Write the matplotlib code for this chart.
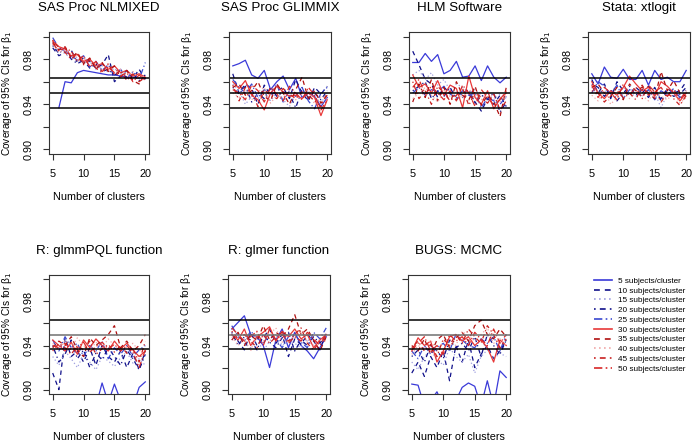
import numpy as np
import matplotlib
matplotlib.use("Agg")
import matplotlib.pyplot as plt
from matplotlib.lines import Line2D

plt.rcParams["font.family"] = ["Liberation Sans", "DejaVu Sans"]

CLUSTERS = list(range(5, 21))
SUBJECTS = [5, 10, 15, 20, 25, 30, 35, 40, 45, 50]
TITLES = ["SAS Proc NLMIXED", "SAS Proc GLIMMIX", "HLM Software", "Stata: xtlogit",
          "R: glmmPQL function", "R: glmer function", "BUGS: MCMC"]
NOMINAL = 0.95
MC_BOUNDS = [0.9365, 0.9635]

# coverage per panel, one row per subjects/cluster setting (5 ... 50)
NLMIXED = [
    [np.nan, 0.937, 0.960, 0.959, 0.968, 0.970, 0.969, 0.968, 0.967, 0.966, 0.966, 0.965, 0.964, 0.964, 0.963, 0.963],
    [0.990, 0.983, 0.986, 0.988, 0.977, 0.981, 0.978, 0.972, 0.975, 0.984, 0.960, 0.965, 0.970, 0.963, 0.971, 0.962],
    [0.994, 0.987, 0.985, 0.980, 0.982, 0.976, 0.978, 0.971, 0.974, 0.968, 0.972, 0.966, 0.969, 0.963, 0.968, 0.964],
    [0.992, 0.985, 0.990, 0.980, 0.976, 0.979, 0.972, 0.976, 0.969, 0.971, 0.966, 0.968, 0.964, 0.967, 0.961, 0.966],
    [0.999, 0.990, 0.987, 0.983, 0.979, 0.983, 0.973, 0.978, 0.970, 0.975, 0.966, 0.971, 0.963, 0.969, 0.962, 0.977],
    [0.996, 0.991, 0.989, 0.983, 0.984, 0.978, 0.980, 0.974, 0.976, 0.971, 0.974, 0.968, 0.970, 0.965, 0.967, 0.964],
    [0.995, 0.988, 0.991, 0.981, 0.986, 0.976, 0.981, 0.971, 0.977, 0.969, 0.974, 0.964, 0.970, 0.961, 0.958, 0.967],
    [0.993, 0.986, 0.988, 0.984, 0.978, 0.981, 0.974, 0.977, 0.970, 0.975, 0.967, 0.971, 0.964, 0.969, 0.962, 0.966],
    [0.997, 0.990, 0.986, 0.980, 0.985, 0.975, 0.979, 0.972, 0.968, 0.976, 0.966, 0.970, 0.961, 0.967, 0.960, 0.964],
    [0.994, 0.987, 0.990, 0.987, 0.978, 0.983, 0.973, 0.978, 0.969, 0.973, 0.968, 0.965, 0.968, 0.960, 0.966, 0.961],
]
GLIMMIX = [
    [0.974, 0.976, 0.979, 0.966, 0.963, 0.970, 0.953, 0.960, 0.965, 0.953, 0.963, 0.946, 0.950, 0.947, 0.938, 0.946],
    [0.967, 0.950, 0.958, 0.954, 0.940, 0.957, 0.948, 0.952, 0.955, 0.945, 0.962, 0.950, 0.943, 0.955, 0.949, 0.956],
    [0.958, 0.952, 0.940, 0.947, 0.945, 0.951, 0.943, 0.950, 0.944, 0.938, 0.949, 0.945, 0.952, 0.946, 0.941, 0.950],
    [0.955, 0.949, 0.956, 0.942, 0.950, 0.945, 0.955, 0.947, 0.951, 0.949, 0.937, 0.953, 0.946, 0.950, 0.944, 0.952],
    [0.962, 0.955, 0.950, 0.958, 0.946, 0.953, 0.949, 0.958, 0.942, 0.952, 0.947, 0.955, 0.943, 0.936, 0.950, 0.955],
    [0.960, 0.954, 0.961, 0.948, 0.944, 0.935, 0.950, 0.956, 0.951, 0.947, 0.948, 0.945, 0.950, 0.946, 0.930, 0.944],
    [0.955, 0.958, 0.948, 0.952, 0.960, 0.947, 0.943, 0.958, 0.950, 0.940, 0.953, 0.964, 0.945, 0.952, 0.941, 0.948],
    [0.950, 0.946, 0.953, 0.944, 0.951, 0.955, 0.941, 0.948, 0.946, 0.952, 0.944, 0.949, 0.953, 0.940, 0.947, 0.945],
    [0.957, 0.943, 0.955, 0.950, 0.938, 0.953, 0.948, 0.945, 0.954, 0.949, 0.945, 0.951, 0.948, 0.943, 0.938, 0.950],
    [0.953, 0.950, 0.944, 0.957, 0.952, 0.942, 0.955, 0.949, 0.943, 0.956, 0.950, 0.944, 0.955, 0.948, 0.935, 0.944],
]
HLM = [
    [0.977, 0.977, 0.985, 0.978, 0.984, 0.967, 0.970, 0.978, 0.964, 0.965, 0.974, 0.961, 0.974, 0.964, 0.959, 0.964],
    [0.987, 0.975, 0.962, 0.958, 0.946, 0.955, 0.950, 0.952, 0.946, 0.949, 0.942, 0.934, 0.945, 0.940, 0.948, 0.938],
    [0.966, 0.970, 0.962, 0.968, 0.957, 0.962, 0.952, 0.958, 0.955, 0.950, 0.953, 0.947, 0.950, 0.944, 0.949, 0.945],
    [0.952, 0.956, 0.960, 0.945, 0.952, 0.947, 0.955, 0.944, 0.950, 0.953, 0.941, 0.948, 0.945, 0.950, 0.933, 0.942],
    [0.950, 0.955, 0.948, 0.953, 0.951, 0.956, 0.949, 0.946, 0.952, 0.948, 0.950, 0.937, 0.946, 0.943, 0.940, 0.947],
    [0.966, 0.955, 0.958, 0.950, 0.961, 0.948, 0.957, 0.954, 0.937, 0.965, 0.946, 0.940, 0.952, 0.936, 0.945, 0.950],
    [0.942, 0.958, 0.946, 0.962, 0.943, 0.955, 0.940, 0.960, 0.948, 0.944, 0.956, 0.939, 0.948, 0.942, 0.929, 0.955],
    [0.945, 0.950, 0.955, 0.948, 0.942, 0.952, 0.947, 0.951, 0.945, 0.953, 0.949, 0.944, 0.951, 0.946, 0.942, 0.948],
    [0.960, 0.945, 0.952, 0.940, 0.956, 0.950, 0.943, 0.948, 0.954, 0.939, 0.951, 0.946, 0.941, 0.949, 0.935, 0.943],
    [0.955, 0.962, 0.949, 0.956, 0.950, 0.944, 0.952, 0.943, 0.957, 0.950, 0.938, 0.953, 0.946, 0.939, 0.944, 0.952],
]
STATA = [
    [0.967, 0.958, 0.973, 0.964, 0.963, 0.971, 0.962, 0.962, 0.970, 0.957, 0.970, 0.962, 0.964, 0.960, 0.960, 0.970],
    [0.962, 0.950, 0.958, 0.945, 0.960, 0.952, 0.948, 0.955, 0.950, 0.956, 0.949, 0.945, 0.954, 0.950, 0.952, 0.960],
    [0.955, 0.948, 0.952, 0.950, 0.946, 0.955, 0.950, 0.947, 0.952, 0.948, 0.950, 0.937, 0.949, 0.951, 0.945, 0.953],
    [0.958, 0.955, 0.947, 0.953, 0.943, 0.950, 0.956, 0.948, 0.953, 0.946, 0.955, 0.943, 0.952, 0.947, 0.949, 0.955],
    [0.950, 0.960, 0.956, 0.949, 0.957, 0.945, 0.953, 0.951, 0.947, 0.953, 0.944, 0.952, 0.948, 0.954, 0.946, 0.950],
    [0.960, 0.950, 0.945, 0.952, 0.948, 0.955, 0.965, 0.958, 0.952, 0.955, 0.947, 0.960, 0.956, 0.950, 0.943, 0.950],
    [0.955, 0.958, 0.950, 0.947, 0.955, 0.944, 0.958, 0.952, 0.955, 0.950, 0.945, 0.969, 0.952, 0.961, 0.950, 0.947],
    [0.948, 0.943, 0.952, 0.940, 0.946, 0.950, 0.945, 0.952, 0.948, 0.943, 0.952, 0.947, 0.944, 0.950, 0.941, 0.946],
    [0.952, 0.950, 0.942, 0.948, 0.952, 0.946, 0.950, 0.944, 0.957, 0.948, 0.953, 0.942, 0.950, 0.945, 0.939, 0.948],
    [0.957, 0.946, 0.955, 0.950, 0.944, 0.958, 0.948, 0.955, 0.945, 0.957, 0.951, 0.955, 0.947, 0.953, 0.944, 0.952],
]
GLMMPQL = [
    [0.880, 0.875, 0.870, 0.878, 0.872, 0.885, 0.880, 0.885, 0.906, 0.888, 0.905, 0.890, 0.880, 0.885, 0.902, 0.907],
    [0.915, 0.900, 0.947, 0.930, 0.935, 0.925, 0.938, 0.922, 0.940, 0.930, 0.925, 0.935, 0.920, 0.933, 0.918, 0.935],
    [0.930, 0.922, 0.935, 0.928, 0.920, 0.932, 0.925, 0.918, 0.930, 0.926, 0.921, 0.929, 0.934, 0.924, 0.928, 0.922],
    [0.940, 0.925, 0.932, 0.945, 0.928, 0.936, 0.920, 0.933, 0.927, 0.938, 0.930, 0.922, 0.936, 0.928, 0.918, 0.932],
    [0.945, 0.935, 0.948, 0.938, 0.942, 0.930, 0.940, 0.935, 0.944, 0.928, 0.938, 0.932, 0.940, 0.930, 0.936, 0.940],
    [0.945, 0.940, 0.935, 0.943, 0.932, 0.945, 0.938, 0.946, 0.940, 0.935, 0.944, 0.937, 0.942, 0.936, 0.930, 0.935],
    [0.938, 0.944, 0.940, 0.948, 0.936, 0.930, 0.947, 0.940, 0.945, 0.950, 0.958, 0.938, 0.944, 0.935, 0.940, 0.950],
    [0.942, 0.936, 0.945, 0.938, 0.947, 0.940, 0.935, 0.943, 0.938, 0.946, 0.940, 0.936, 0.938, 0.942, 0.935, 0.938],
    [0.935, 0.942, 0.938, 0.932, 0.940, 0.936, 0.944, 0.932, 0.937, 0.941, 0.934, 0.940, 0.933, 0.937, 0.925, 0.944],
    [0.940, 0.938, 0.942, 0.936, 0.938, 0.943, 0.934, 0.939, 0.943, 0.937, 0.941, 0.935, 0.940, 0.934, 0.920, 0.936],
]
GLMER = [
    [0.955, 0.961, 0.967, 0.950, 0.948, 0.940, 0.920, 0.945, 0.955, 0.938, 0.952, 0.940, 0.935, 0.928, 0.938, 0.948],
    [0.950, 0.944, 0.936, 0.952, 0.940, 0.947, 0.955, 0.942, 0.950, 0.930, 0.946, 0.941, 0.950, 0.944, 0.936, 0.952],
    [0.945, 0.950, 0.942, 0.938, 0.946, 0.935, 0.944, 0.950, 0.940, 0.945, 0.942, 0.938, 0.946, 0.940, 0.944, 0.948],
    [0.952, 0.940, 0.948, 0.945, 0.936, 0.950, 0.943, 0.938, 0.947, 0.952, 0.935, 0.945, 0.940, 0.948, 0.942, 0.950],
    [0.958, 0.948, 0.944, 0.953, 0.947, 0.942, 0.950, 0.946, 0.938, 0.948, 0.950, 0.943, 0.938, 0.952, 0.946, 0.956],
    [0.950, 0.945, 0.955, 0.940, 0.948, 0.952, 0.957, 0.944, 0.953, 0.948, 0.955, 0.946, 0.950, 0.938, 0.945, 0.950],
    [0.945, 0.952, 0.940, 0.950, 0.944, 0.958, 0.945, 0.952, 0.948, 0.955, 0.968, 0.950, 0.955, 0.945, 0.935, 0.948],
    [0.948, 0.940, 0.946, 0.935, 0.952, 0.944, 0.950, 0.956, 0.943, 0.950, 0.946, 0.952, 0.944, 0.940, 0.946, 0.944],
    [0.953, 0.946, 0.950, 0.944, 0.938, 0.950, 0.942, 0.948, 0.952, 0.944, 0.950, 0.956, 0.942, 0.936, 0.944, 0.948],
    [0.956, 0.950, 0.944, 0.948, 0.953, 0.940, 0.955, 0.945, 0.950, 0.942, 0.948, 0.944, 0.952, 0.946, 0.940, 0.950],
]
BUGS = [
    [0.905, 0.904, 0.885, 0.890, 0.898, 0.885, 0.880, 0.890, 0.902, 0.906, 0.903, 0.885, 0.908, 0.885, 0.917, 0.911],
    [0.915, 0.925, 0.912, 0.930, 0.920, 0.935, 0.908, 0.940, 0.925, 0.945, 0.920, 0.932, 0.940, 0.928, 0.935, 0.945],
    [0.925, 0.918, 0.930, 0.935, 0.928, 0.922, 0.938, 0.930, 0.925, 0.932, 0.915, 0.930, 0.936, 0.928, 0.933, 0.930],
    [0.930, 0.936, 0.925, 0.940, 0.935, 0.928, 0.945, 0.938, 0.942, 0.935, 0.948, 0.930, 0.950, 0.940, 0.932, 0.945],
    [0.935, 0.928, 0.940, 0.932, 0.938, 0.942, 0.935, 0.950, 0.945, 0.940, 0.938, 0.946, 0.942, 0.948, 0.935, 0.950],
    [0.935, 0.947, 0.940, 0.944, 0.925, 0.935, 0.948, 0.950, 0.944, 0.948, 0.940, 0.945, 0.938, 0.925, 0.945, 0.940],
    [0.940, 0.935, 0.946, 0.932, 0.945, 0.950, 0.938, 0.947, 0.952, 0.944, 0.958, 0.963, 0.950, 0.946, 0.955, 0.948],
    [0.932, 0.940, 0.937, 0.945, 0.935, 0.943, 0.946, 0.940, 0.953, 0.948, 0.944, 0.950, 0.956, 0.942, 0.946, 0.940],
    [0.938, 0.944, 0.935, 0.941, 0.930, 0.946, 0.940, 0.950, 0.942, 0.955, 0.948, 0.942, 0.958, 0.950, 0.938, 0.946],
    [0.936, 0.942, 0.948, 0.935, 0.940, 0.932, 0.950, 0.944, 0.948, 0.940, 0.952, 0.946, 0.940, 0.955, 0.942, 0.950],
]
PANELS = [NLMIXED, GLIMMIX, HLM, STATA, GLMMPQL, GLMER, BUGS]

COLORS = ["#3a3ad8", "#10108a", "#a0a0e0", "#10108a", "#3a48d0",
          "#e83838", "#b01010", "#f0a8a8", "#c82020", "#d82828"]
STYLES = ["-", (0, (3.5, 3)), (0, (1, 2)), (0, (1, 2.5, 3.5, 2.5)), (0, (5, 2, 1, 2))] * 2

W, H = 692, 443
# panel boxes in pixels: left, top, right, bottom
BOXES = [(49, 32, 149, 154), (229, 32, 331, 154), (409, 32, 510, 154), (588, 32, 690, 154),
         (49, 275, 149, 394), (228, 275, 330, 394), (408, 275, 510, 394)]

fig = plt.figure(figsize=(W / 100, H / 100), dpi=100)

for i, (title, data) in enumerate(zip(TITLES, PANELS)):
    l, t, r, b = BOXES[i]
    ax = fig.add_axes([l / W, 1 - b / H, (r - l) / W, (b - t) / H])
    for row, col, ls in zip(data, COLORS, STYLES):
        ax.plot(CLUSTERS, row, color=col, linestyle=ls, linewidth=0.9)
    mid_col = "black" if i < 4 else "#707070"
    ax.axhline(NOMINAL, color=mid_col, linewidth=1.1)
    for yb in MC_BOUNDS:
        ax.axhline(yb, color="black", linewidth=1.1)
    ax.set_xlim(4.4, 20.6)
    ax.set_ylim(0.896, 1.004)
    ax.set_xticks([5, 10, 15, 20])
    ax.set_yticks([0.90, 0.92, 0.94, 0.96, 0.98, 1.00])
    ax.set_yticklabels(["0.90", "", "0.94", "", "0.98", ""])
    for lab in ax.get_yticklabels():
        lab.set_rotation(90)
        lab.set_va("center")
    ax.tick_params(labelsize=7.8, length=4, width=0.8, pad=7, color="#333333")
    for sp in ax.spines.values():
        sp.set_linewidth(0.8)
        sp.set_color("#333333")
    ax.set_title(title, fontsize=9.6, pad=15)
    ax.set_xlabel("Number of clusters", fontsize=7.8, labelpad=9)
    ax.set_ylabel("Coverage of 95% CIs for β$_1$", fontsize=7.3, labelpad=7)

handles = [Line2D([], [], color=c, linestyle=s, linewidth=1.2) for c, s in zip(COLORS, STYLES)]
labels = [f"{n} subjects/cluster" for n in SUBJECTS]
fig.legend(handles, labels, loc="upper left", bbox_to_anchor=(594 / W, 1 - 277 / H),
           frameon=False, fontsize=5.9, handlelength=2.2, handletextpad=0.7,
           labelspacing=0.25, borderpad=0, borderaxespad=0)

fig.savefig("out.png", dpi=100)
